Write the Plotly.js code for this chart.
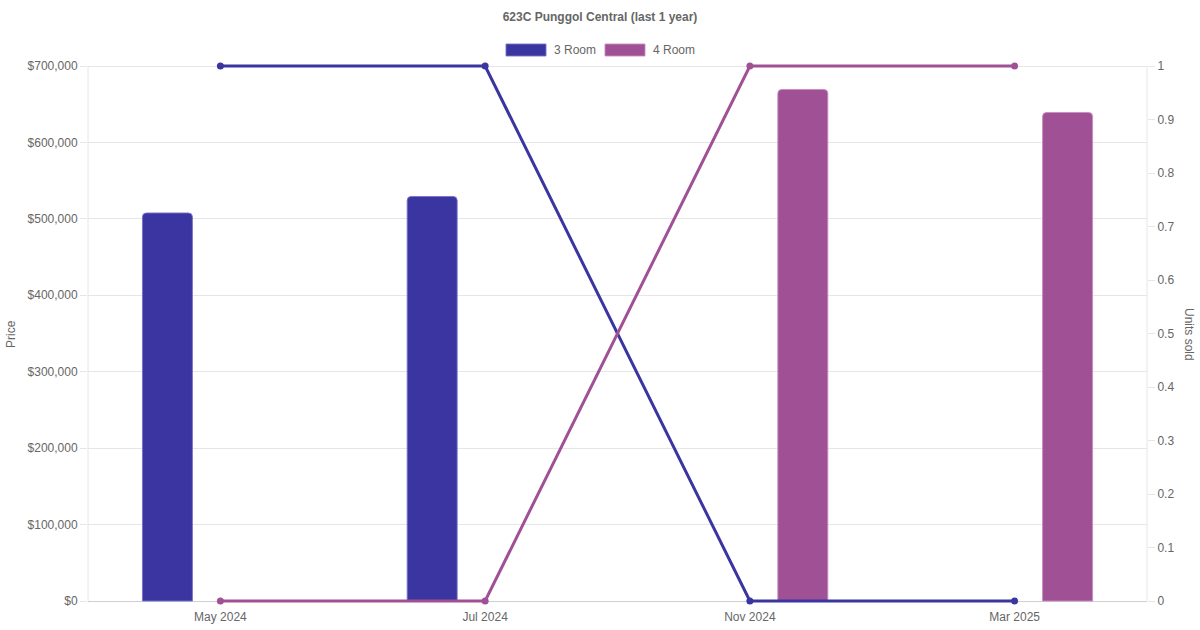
<!DOCTYPE html>
<html>
<head>
<meta charset="utf-8">
<script src="https://cdn.plot.ly/plotly-3.0.1.min.js"></script>
<style>html,body{margin:0;padding:0;background:#fff;}#chart{width:1200px;height:630px;}</style>
</head>
<body>
<div id="chart"></div>
<script>
const months = ["May 2024", "Jul 2024", "Nov 2024", "Mar 2025"];
const price3Room = [507700, 529300, null, null];
const price4Room = [null, null, 669300, 639200];
const units3Room = [1, 1, 0, 0];
const units4Room = [0, 0, 1, 1];
const seriesNames = ["3 Room", "4 Room"];
const colors = ["#3A35A0", "#A05195"];

const FONT = "Liberation Sans, Arial, Helvetica, sans-serif";
const TXT = "#666666";

const traces = [
  {type: "bar", x: months, y: price3Room, name: seriesNames[0], yaxis: "y",
   marker: {color: colors[0], line: {color: "rgba(120,115,200,0.9)", width: 1}}, showlegend: false},
  {type: "bar", x: months, y: price4Room, name: seriesNames[1], yaxis: "y",
   marker: {color: colors[1], line: {color: "rgba(200,140,190,0.9)", width: 1}}, showlegend: false},
  {type: "scatter", mode: "lines+markers", x: months, y: units3Room, name: seriesNames[0], yaxis: "y2",
   line: {color: colors[0], width: 3}, marker: {color: colors[0], size: 7}, showlegend: false, cliponaxis: false},
  {type: "scatter", mode: "lines+markers", x: months, y: units4Room, name: seriesNames[1], yaxis: "y2",
   line: {color: colors[1], width: 3}, marker: {color: colors[1], size: 7}, showlegend: false, cliponaxis: false}
];

// visible plot frame (pixels) and a small padding so lines at the edges are not clipped
const L = 88, R = 1147, T0 = 66, B0 = 601, PAD = 2;
const T = T0 - PAD, B = B0 + PAD;
const e = PAD / (B0 - T0);
const PMAX = 700000;
const px = v => (v - L) / (R - L);
const py = v => (B - v) / (B - T);

const shapes = [
  {type: "rect", xref: "paper", yref: "paper", x0: px(506), x1: px(546), y0: py(56), y1: py(44),
   fillcolor: colors[0], line: {color: "rgba(120,115,200,0.9)", width: 1}},
  {type: "rect", xref: "paper", yref: "paper", x0: px(605), x1: px(645), y0: py(56), y1: py(44),
   fillcolor: colors[1], line: {color: "rgba(200,140,190,0.9)", width: 1}},
  {type: "line", xref: "paper", yref: "y", x0: 0, x1: 0, y0: 0, y1: PMAX, line: {color: "#e6e6e6", width: 1}, layer: "below"},
  {type: "line", xref: "paper", yref: "y", x0: 1, x1: 1, y0: 0, y1: PMAX, line: {color: "#e6e6e6", width: 1}, layer: "below"}
];

const annotations = [
  {xref: "paper", yref: "paper", x: px(552), y: py(50), text: seriesNames[0], showarrow: false,
   xanchor: "left", yanchor: "middle", font: {family: FONT, size: 12, color: TXT}},
  {xref: "paper", yref: "paper", x: px(651), y: py(50), text: seriesNames[1], showarrow: false,
   xanchor: "left", yanchor: "middle", font: {family: FONT, size: 12, color: TXT}},
  {xref: "paper", yref: "paper", x: px(11), y: py(334), text: "Price", showarrow: false, textangle: -90,
   xanchor: "center", yanchor: "middle", font: {family: FONT, size: 12, color: TXT}},
  {xref: "paper", yref: "paper", x: px(1189), y: py(334), text: "Units sold", showarrow: false, textangle: 90,
   xanchor: "center", yanchor: "middle", font: {family: FONT, size: 12, color: TXT}}
];

const layout = {
  width: 1200, height: 630,
  margin: {l: L, r: 1200 - R, t: T, b: 630 - B, pad: 0},
  paper_bgcolor: "#fff", plot_bgcolor: "#fff",
  font: {family: FONT, size: 12, color: TXT},
  title: {text: "<b>623C Punggol Central (last 1 year)</b>", x: 0.5, xanchor: "center",
          y: 1 - 17 / 630, yanchor: "middle", font: {family: FONT, size: 12, color: TXT}},
  barmode: "group", bargap: 0.2, bargroupgap: 0.528,
  barcornerradius: 4,
  showlegend: false,
  xaxis: {type: "category", showgrid: false, zeroline: false, showline: false,
          ticks: "", ticklabelstandoff: 5, tickfont: {family: FONT, size: 12, color: TXT}, fixedrange: true},
  yaxis: {range: [-PMAX * e, PMAX * (1 + e)], dtick: 100000, tick0: 0, tickprefix: "$", tickformat: ",d",
          showgrid: true, gridcolor: "#e6e6e6", gridwidth: 1,
          zeroline: true, zerolinecolor: "#cfcfcf", zerolinewidth: 1, showline: false,
          ticks: "outside", ticklen: 7, tickcolor: "#e6e6e6", tickfont: {family: FONT, size: 12, color: TXT}},
  yaxis2: {range: [-e, 1 + e], dtick: 0.1, tick0: 0, overlaying: "y", side: "right",
           showgrid: false, zeroline: false, showline: false,
           ticks: "outside", ticklen: 7, tickcolor: "#e6e6e6", tickfont: {family: FONT, size: 12, color: TXT}},
  shapes: shapes,
  annotations: annotations
};

Plotly.newPlot("chart", traces, layout, {displayModeBar: false, staticPlot: true});
</script>
</body>
</html>
